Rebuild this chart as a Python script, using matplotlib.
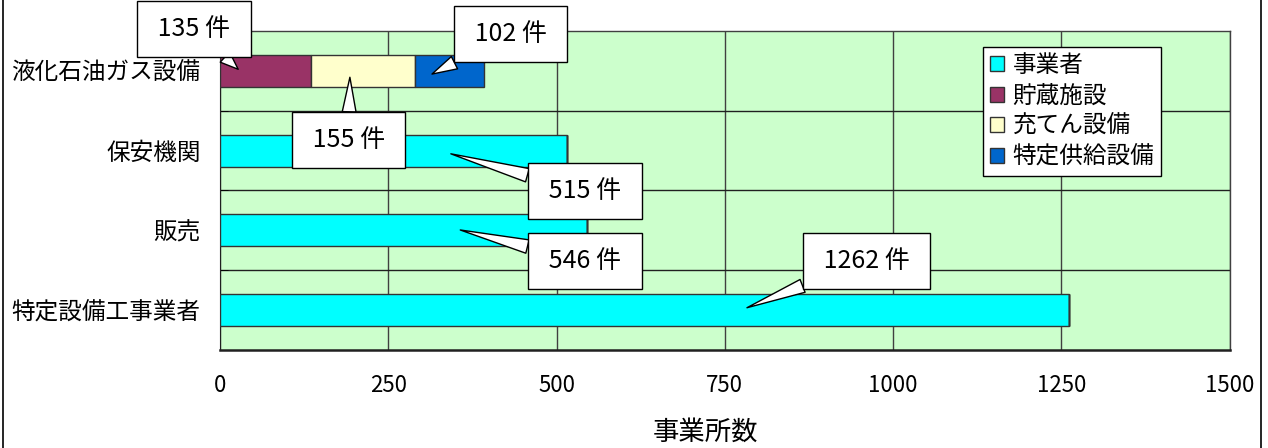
import matplotlib
matplotlib.use('Agg')
import matplotlib.pyplot as plt
from matplotlib.lines import Line2D
import numpy as np

plt.rcParams['font.family'] = ['Noto Sans CJK JP', 'DejaVu Sans']

#### DATA ####
categories = ["液化石油ガス設備", "保安機関", "販売", "特定設備工事業者"]
series_names = ["事業者", "貯蔵施設", "充てん設備", "特定供給設備"]
jigyosha = [0, 515, 546, 1262]
chozo = [135, 0, 0, 0]
juten = [155, 0, 0, 0]
tokutei_kyokyu = [102, 0, 0, 0]
xticks = [0, 250, 500, 750, 1000, 1250, 1500]
xlabel = "事業所数"

#### STYLE ####
colors = ["#00FFFF", "#993366", "#FFFFCC", "#0066CC"]
bg = "#CCFFCC"
gridc = "#404040"

# callouts: (series index, category index, text box centre in data coords, tip x)
callouts = [
    (1, 0, (-39, -0.53), 27),
    (3, 0, (432, -0.46), 315),
    (2, 0, (191, 0.87), 193),
    (0, 1, (542, 1.51), 343),
    (0, 2, (542, 2.38), 357),
    (0, 3, (961, 2.38), 783),
]
tip_dy = [-0.02, 0.04, 0.08, 0.04, -0.005, -0.03]

fig = plt.figure(figsize=(12.68, 4.48), dpi=100)
ax = fig.add_axes([220 / 1268, 1 - 350 / 448, 1009.5 / 1268, 319 / 448])
ax.set_facecolor(bg)

values = [jigyosha, chozo, juten, tokutei_kyokyu]
y = np.arange(len(categories))
left = np.zeros(len(categories))
for vals, name, col in zip(values, series_names, colors):
    ax.barh(y, vals, height=0.4, left=left, color=col, edgecolor="#333333",
            linewidth=1, label=name, zorder=3)
    left = left + np.array(vals)

ax.set_xlim(0, 1500)
ax.set_ylim(3.5, -0.5)
ax.set_xticks(xticks)
ax.set_xticklabels([str(t) for t in xticks], fontsize=16)
ax.set_yticks(y)
ax.set_yticklabels(categories, fontsize=17)
ax.set_yticks([0.5, 1.5, 2.5], minor=True)
ax.tick_params(axis='x', length=0, pad=17)
ax.tick_params(axis='y', which='major', length=0, pad=14)
ax.tick_params(axis='y', which='minor', length=6, direction='in', color='black')
ax.grid(True, axis='x', color=gridc, linewidth=1, zorder=1)
ax.grid(True, axis='y', which='minor', color="#202020", linewidth=1, zorder=1)
ax.set_axisbelow(True)

for s in ['top', 'right']:
    ax.spines[s].set_color(gridc)
    ax.spines[s].set_linewidth(1)
ax.spines['left'].set_color("#202020")
ax.spines['bottom'].set_color("#202020")
ax.spines['bottom'].set_linewidth(1.8)

fig.text(705 / 1268, 1 - 432 / 448, xlabel, fontsize=19, ha='center', va='center')

# value callouts
for (si, ci, (bx, by), tx), dy in zip(callouts, tip_dy):
    v = values[si][ci]
    ax.annotate(f" {v} 件 ", xy=(tx, ci + dy), xytext=(bx, by),
                ha='center', va='center', fontsize=18, annotation_clip=False,
                bbox=dict(boxstyle="square,pad=0.6", fc="white", ec="black", lw=1),
                arrowprops=dict(arrowstyle="wedge,tail_width=0.55,shrink_factor=0.5",
                                fc="white", ec="black", lw=1, shrinkA=0, shrinkB=0),
                zorder=5)

leg = ax.legend(loc='upper left', bbox_to_anchor=(983 / 1268, 1 - 47 / 448),
                bbox_transform=fig.transFigure, fontsize=17, frameon=True,
                fancybox=False, edgecolor='black', framealpha=1,
                borderaxespad=0, borderpad=0.3, labelspacing=0.32,
                handlelength=0.6, handleheight=0.6, handletextpad=0.35)
leg.get_frame().set_linewidth(1)
leg.set_zorder(6)

# outer frame lines
fig.add_artist(Line2D([2.5 / 1268, 2.5 / 1268], [0, 1], color='black', lw=1.2))
fig.add_artist(Line2D([1261 / 1268, 1261 / 1268], [0, 1], color='black', lw=1.2))

fig.savefig("out.png", dpi=100)
